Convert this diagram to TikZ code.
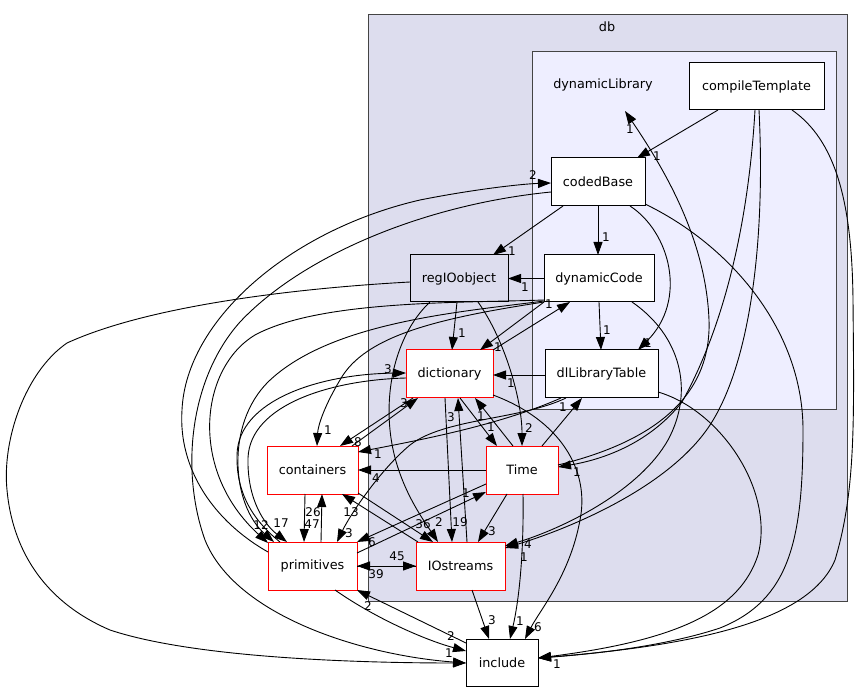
\documentclass[tikz,border=0pt]{standalone}
\usepackage{fontspec}
\setmainfont{DejaVu Sans}
\usetikzlibrary{arrows.meta,calc}
\definecolor{dbfill}{HTML}{DDDDEE}
\definecolor{dlfill}{HTML}{EEEEFF}
\definecolor{clborder}{HTML}{444444}
\tikzset{
  dnode/.style={draw=black, fill=white, line width=1pt, inner sep=0pt, outer sep=0pt,
                font=\fontsize{12.8}{15}\selectfont, minimum height=47pt},
  rnode/.style={dnode, draw=red},
  lbl/.style={font=\fontsize{12}{14}\selectfont, inner sep=0pt},
  dep/.style={draw=black, line width=0.9pt, -{Triangle[length=13pt,width=9pt]}},
  cluster/.style={draw=clborder, line width=1pt},
}
\begin{document}
\begin{tikzpicture}[x=1pt,y=-1pt]
\useasboundingbox (0,0) rectangle (862,692);
% clusters
\draw[cluster, fill=dbfill] (368,15) rectangle (847,601);
\draw[cluster, fill=dlfill] (532,52) rectangle (836,409);
\node[font=\fontsize{12.8}{15}\selectfont] (dblabel) at (607,27) {db};
\node[font=\fontsize{12.8}{15}\selectfont] (dynlib) at (603,85) {dynamicLibrary};
\coordinate (dlhead) at (625,111);

% nodes
\node[dnode, minimum width=135pt, minimum height=47pt] (CT) at (756.5,86.5) {compileTemplate};
\node[dnode, minimum width=94pt, minimum height=48pt] (CB) at (598,182) {codedBase};
\node[dnode, fill=dbfill, minimum width=98pt] (RIO) at (459,278.5) {regIOobject};
\node[dnode, minimum width=110pt] (DC) at (599,278.5) {dynamicCode};
\node[rnode, minimum width=87pt, minimum height=48pt] (DI) at (449.5,374) {dictionary};
\node[dnode, minimum width=113pt, minimum height=48pt] (DL) at (601.5,374) {dlLibraryTable};
\node[rnode, minimum width=91pt, minimum height=48pt] (CO) at (312.5,470) {containers};
\node[rnode, minimum width=72pt, minimum height=48pt] (TI) at (522,470) {Time};
\node[rnode, minimum width=89pt, minimum height=48pt] (PR) at (312.5,566) {primitives};
\node[rnode, minimum width=89pt, minimum height=48pt] (IO) at (460.5,566) {IOstreams};
\node[dnode, minimum width=72pt, minimum height=47pt] (IN) at (502,662.5) {include};

% compileTemplate
\draw[dep] ($(CT.north west)+(29,47)$) -- ($(CB.north west)+(86,0)$);
\node[lbl] (l1) at (657,156) {1};
\draw[dep] ($(CT.north west)+(66,47)$) .. controls (748,230) and (722,330) .. (682,402) .. controls (648,445) and (600,460) .. ($(TI.north west)+(72,21)$);
\node[lbl] (l2) at (577,472) {1};
\draw[dep] ($(CT.north west)+(70,47)$) .. controls (766,250) and (748,370) .. (708,428) .. controls (665,490) and (565,530) .. ($(IO.north west)+(89,6)$);
\node[lbl] (l3) at (524,557) {1};
\draw[dep] ($(CT.north west)+(103,47)$) .. controls (835,140) and (852,200) .. (853,300) .. controls (854,420) and (856,490) .. (835,560) .. controls (810,620) and (700,645) .. ($(IN.north west)+(72,19)$);

% dynamicCode -> IOstreams
\draw[dep] ($(DC.north west)+(88,47)$) .. controls (680,335) and (695,390) .. (668,440) .. controls (640,490) and (565,528) .. ($(IO.north west)+(89,4)$);
\node[lbl] (l4) at (528,544) {4};

% Time -> dynamicLibrary
\draw[dep] ($(TI.north west)+(72,19)$) .. controls (640,445) and (712,405) .. (709,320) .. controls (706,240) and (665,170) .. (dlhead);
\node[lbl] (l5) at (630,129) {1};

% codedBase
\draw[dep] ($(CB.north west)+(12,48)$) -- ($(RIO.north west)+(83,0)$);
\node[lbl] (l6) at (512,251) {1};
\draw[dep] ($(CB.north west)+(47,48)$) -- ($(DC.north west)+(54,0)$);
\node[lbl] (l7) at (606,237) {1};
\draw[dep] ($(CB.north west)+(79,48)$) .. controls (670,232) and (688,300) .. ($(DL.north west)+(93,0)$);
\node[lbl] (l8) at (648,343) {1};
\draw[dep] ($(CB.north west)+(94,46)$) .. controls (730,245) and (803,330) .. (803,430) .. controls (803,540) and (790,600) .. (720,628) .. controls (660,648) and (580,655) .. ($(IN.north west)+(72,19)$);
\draw[dep] ($(CB.north west)+(0,34)$) .. controls (420,205) and (300,258) .. (240,322) .. controls (190,378) and (180,470) .. (205,540) .. controls (235,615) and (360,655) .. ($(IN.north west)+(0,24)$);

% dlLibraryTable -> include
\draw[dep] ($(DL.north west)+(113,42)$) .. controls (720,410) and (775,490) .. (758,555) .. controls (740,610) and (680,640) .. ($(IN.north west)+(72,19)$);
\node[lbl] (l9) at (557,664) {1};

% regIOobject
\draw[dep] ($(RIO.north west)+(0,27)$) .. controls (300,288) and (150,305) .. (67,343) .. controls (25,372) and (2,440) .. (7,490) .. controls (12,545) and (40,600) .. (110,630) .. controls (200,660) and (380,663) .. ($(IN.north west)+(0,24)$);
\node[lbl] (l10) at (449,653) {1};
\draw[dep] ($(RIO.north west)+(47,47)$) -- ($(DI.north west)+(46,0)$);
\node[lbl] (l11) at (462,333) {1};
\draw[dep] ($(RIO.north west)+(68,47)$) .. controls (505,340) and (522,400) .. ($(TI.north west)+(36,0)$);
\node[lbl] (l12) at (529,428) {2};
\draw[dep] ($(RIO.north west)+(20,47)$) .. controls (400,330) and (385,380) .. (390,430) .. controls (395,480) and (420,515) .. ($(IO.north west)+(22,0)$);
\node[lbl] (l13) at (439,522) {2};

% primitives -> codedBase
\draw[dep] ($(PR.north west)+(0,10)$) .. controls (215,522) and (178,470) .. (182,410) .. controls (186,320) and (290,230) .. (420,200) .. controls (470,190) and (520,184) .. ($(CB.north west)+(0,25)$);
\node[lbl] (l14) at (533,175) {2};

% dynamicCode
\draw[dep] ($(DC.north west)+(0,45)$) .. controls (460,303) and (320,300) .. (255,335) .. controls (200,368) and (188,470) .. ($(PR.north west)+(0,1)$);
\node[lbl] (l15) at (261,525) {12};
\draw[dep] ($(DC.north west)+(0,46)$) .. controls (460,312) and (330,322) .. (268,382) .. controls (225,425) and (232,505) .. ($(PR.north west)+(6,0)$);
\draw[dep] ($(DC.north west)+(0,47)$) .. controls (440,318) and (365,335) .. (340,380) .. controls (325,405) and (318,425) .. ($(CO.north west)+(50,0)$);
\node[lbl] (l16) at (328,430) {1};
\draw[dep] ($(DC.north west)+(0,23.5)$) -- ($(RIO.north west)+(98,23.5)$);
\node[lbl] (l17) at (525,287) {1};
\draw[dep] ($(DC.north west)+(55,47)$) -- ($(DL.north west)+(56,0)$);
\node[lbl] (l18) at (607,330) {1};
\draw[dep] ($(DC.north west)+(0,47)$) -- ($(DI.north west)+(74,0)$);
\node[lbl] (l19) at (498,347) {1};
\draw[dep] (DI.north east) -- ($(DC.north west)+(26,47)$);
\node[lbl] (l20) at (549,304) {1};

% dlLibraryTable
\draw[dep] ($(DL.north west)+(0,25)$) -- ($(DI.north west)+(87,25)$);
\node[lbl] (l21) at (511,383) {1};
\draw[dep] ($(DL.north west)+(16,48)$) .. controls (500,425) and (420,440) .. ($(CO.north west)+(91,6)$);
\node[lbl] (l22) at (378,454) {1};
\draw[dep] ($(DL.north west)+(21,48)$) .. controls (520,420) and (445,418) .. (410,445) .. controls (380,470) and (350,515) .. ($(PR.north west)+(69,0)$);
\node[lbl] (l23) at (349,533) {3};

% dictionary
\draw[dep] ($(PR.north west)+(12,0)$) .. controls (255,522) and (236,495) .. (237,455) .. controls (238,400) and (320,374) .. ($(DI.north west)+(0,23)$);
\node[lbl] (l24) at (388,369) {3};
\draw[dep] ($(DI.north west)+(0,28)$) .. controls (330,380) and (250,405) .. (248,458) .. controls (247,500) and (265,525) .. ($(PR.north west)+(19,0)$);
\node[lbl] (l25) at (281,523) {17};
\draw[dep] ($(DI.north west)+(7,48)$) -- ($(CO.north west)+(73,0)$);
\node[lbl] (l26) at (358,442) {8};
\draw[dep] ($(CO.north west)+(85,0)$) -- ($(DI.north west)+(12,48)$);
\node[lbl] (l27) at (404,403) {3};
\draw[dep] ($(DI.north west)+(54,48)$) -- ($(TI.north west)+(11,0)$);
\node[lbl] (l28) at (491,427) {1};
\draw[dep] ($(TI.north west)+(27,0)$) -- ($(DI.north west)+(69,48)$);
\node[lbl] (l29) at (481,416) {1};
\draw[dep] ($(DI.north west)+(39,48)$) -- ($(IO.north west)+(36,0)$);
\node[lbl] (l30) at (460,522) {19};
\draw[dep] ($(IO.north west)+(51,0)$) -- ($(DI.north west)+(52,48)$);
\node[lbl] (l31) at (451,417) {3};
\draw[dep] ($(DI.north west)+(87,45)$) .. controls (560,420) and (590,470) .. (580,520) .. controls (570,575) and (540,610) .. ($(IN.north west)+(59,0)$);
\node[lbl] (l32) at (538,627) {6};

% Time
\draw[dep] ($(TI.north west)+(0,24)$) -- ($(CO.north west)+(91,24)$);
\node[lbl] (l33) at (376,478) {4};
\draw[dep] ($(TI.north west)+(21,48)$) -- ($(IO.north west)+(62,0)$);
\node[lbl] (l34) at (492,531) {3};
\draw[dep] ($(TI.north west)+(56,0)$) -- ($(DL.north west)+(37,48)$);
\node[lbl] (l35) at (563,407) {1};
\draw[dep] ($(TI.north west)+(0,38)$) -- (PR.north east);
\node[lbl] (l36) at (372,542) {6};
\draw[dep] ($(PR.north west)+(89,11)$) -- ($(TI.north west)+(0,46)$);
\node[lbl] (l37) at (466,493) {1};
\draw[dep] ($(TI.north west)+(37,48)$) .. controls (524,560) and (518,605) .. ($(IN.north west)+(44,0)$);
\node[lbl] (l38) at (520,621) {1};

% containers / primitives / IOstreams
\draw[dep] ($(CO.north west)+(38,48)$) -- ($(PR.north west)+(36,0)$);
\node[lbl] (l39) at (312,524) {47};
\draw[dep] ($(PR.north west)+(53,0)$) -- ($(CO.north west)+(55,48)$);
\node[lbl] (l40) at (313,512) {26};
\draw[dep] ($(CO.north west)+(91,47)$) -- ($(IO.north west)+(17,0)$);
\node[lbl] (l41) at (423,524) {36};
\draw[dep] ($(IO.north west)+(2,0)$) -- ($(CO.north west)+(75,48)$);
\node[lbl] (l42) at (351,512) {13};
\draw[dep] ($(PR.north west)+(89,24)$) -- ($(IO.north west)+(0,24)$);
\node[lbl] (l43) at (397,556) {45};
\draw[dep] ($(IO.north west)+(0,24)$) -- ($(PR.north west)+(89,24)$);
\node[lbl] (l44) at (376,574) {39};

% include
\draw[dep] ($(IO.north west)+(56,48)$) -- ($(IN.north west)+(23,0)$);
\node[lbl] (l45) at (492,620) {3};
\draw[dep] ($(PR.north west)+(67,48)$) .. controls (375,618) and (425,640) .. ($(IN.north west)+(0,12)$);
\node[lbl] (l46) at (451,636) {2};
\draw[dep] ($(IN.north west)+(0,4)$) -- (PR.south east);
\node[lbl] (l47) at (368,606) {2};
\end{tikzpicture}
\end{document}
